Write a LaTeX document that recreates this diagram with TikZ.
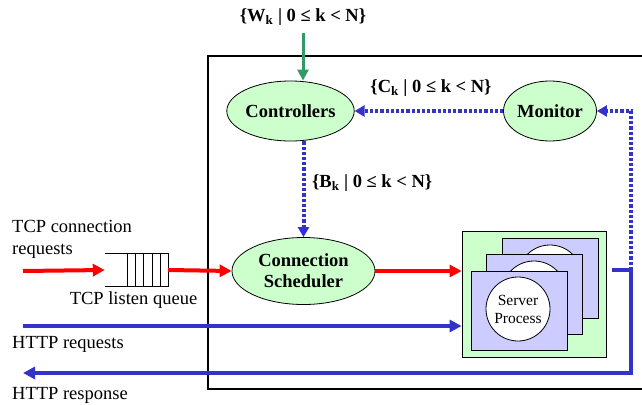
\documentclass[tikz,border=0pt]{standalone}
\usepackage{fontspec}
\setmainfont{Liberation Serif}
\usetikzlibrary{arrows.meta,shapes.geometric}
\definecolor{lgreen}{HTML}{CCFFCC}
\definecolor{lpurple}{HTML}{CCCCFF}
\definecolor{myblue}{HTML}{3333CC}
\definecolor{mygreen}{HTML}{339966}
\tikzset{
  lbl/.style={font=\fontsize{18.5}{22}\selectfont, inner sep=0pt, align=left},
  blbl/.style={lbl, font=\fontsize{18.5}{22}\selectfont\bfseries},
  ell/.style={ellipse, draw=black, line width=0.8pt, fill=lgreen, font=\fontsize{18.5}{22}\selectfont\bfseries, align=center, inner sep=0pt},
  redarrow/.style={draw=red, line width=4pt, -{Triangle[length=12pt,width=12pt]}},
  bluearrow/.style={draw=myblue, line width=4pt, -{Triangle[length=12pt,width=12pt]}},
  bluedot/.style={draw=myblue, line width=4pt, dash pattern=on 3.2pt off 2pt},
  dotarrow/.style={bluedot, -{Triangle[length=10pt,width=11pt]}},
  greenarrow/.style={draw=mygreen, line width=3pt, -{Triangle[length=11pt,width=11pt]}},
  proc/.style={draw=black, line width=0.8pt, fill=lpurple},
  circ/.style={draw=black, line width=0.8pt, fill=white},
}
\begin{document}
\begin{tikzpicture}[x=1pt,y=-1pt]
\useasboundingbox (0,0) rectangle (642,404);
% outer box
\draw[line width=2pt] (208,56) rectangle (660,389);
% ellipses
\node[ell, minimum width=105pt, minimum height=60pt] (ctrl) at (290.5,111) {Controllers};
\node[ell, minimum width=80pt, minimum height=60pt] (mon) at (550,111) {Monitor};
\node[ell, minimum width=143pt, minimum height=67pt] (sched) at (303.5,271) {Connection\\[-1pt]Scheduler};
% server box
\node[draw=black, line width=0.8pt, fill=lgreen, minimum width=144pt, minimum height=126pt, inner sep=0pt] (srv) at (534,294) {};
\draw[proc] (502,238) rectangle (598,318);
\draw[circ] (550,277) circle (32pt);
\draw[proc] (486,254) rectangle (582,334);
\draw[circ] (534,293) circle (32pt);
\draw[proc] (471,271) rectangle (567,350);
\node[circ, circle, minimum size=64pt, inner sep=0pt, align=center, font=\fontsize{15.5}{18}\selectfont] (sp) at (518,309) {Server\\Process};
% queue
\node[minimum width=63pt, minimum height=32pt, inner sep=0pt] (queue) at (136.5,270) {};
\draw[line width=0.8pt] (queue.north west) -- (queue.north east) -- (queue.south east) -- (queue.south west);
\foreach \x in {127,135,143,152,160} \draw[line width=0.8pt] (\x,254) -- (\x,286);
% labels
\node[blbl] (wl) at (303,17) {\{W\textsubscript{k} | 0 ≤ k < N\}};
\node[blbl] (cl) at (431,88) {\{C\textsubscript{k} | 0 ≤ k < N\}};
\node[blbl, anchor=west] (bl) at (312,183) {\{B\textsubscript{k} | 0 ≤ k < N\}};
\node[lbl, anchor=west] (tcp) at (12,239) {TCP connection\\requests};
\node[lbl] (tlq) at (133.5,300) {TCP listen queue};
\node[lbl, anchor=west] (hreq) at (12,344) {HTTP requests};
\node[lbl, anchor=west] (hres) at (12,395) {HTTP response};
% coordinates
\coordinate (wtop) at (303,33);
\coordinate (tcpin) at (23,271);
\coordinate (httpin) at (23,326);
\coordinate (httpout) at (23,373);
\coordinate (rs) at (612,270);
\coordinate (corner) at (631,270);
% connectors
\draw[greenarrow] (wtop) -- (wtop |- ctrl.north);
\draw[dotarrow] (mon.west) -- (ctrl.east);
\draw[dotarrow] (sched.north |- ctrl.south) -- (sched.north);
\draw[redarrow] (tcpin) -- (queue.west);
\draw[redarrow] (queue.east) -- (sched.west);
\draw[redarrow] (sched.east) -- (sched.east -| srv.west);
\draw[bluearrow] (httpin) -- (httpin -| srv.west);
\draw[dotarrow] (corner) -- (corner |- mon.east) -- (mon.east);
\draw[bluearrow] (rs) -- (corner) -- (corner |- httpout) -- (httpout);
\end{tikzpicture}
\end{document}
